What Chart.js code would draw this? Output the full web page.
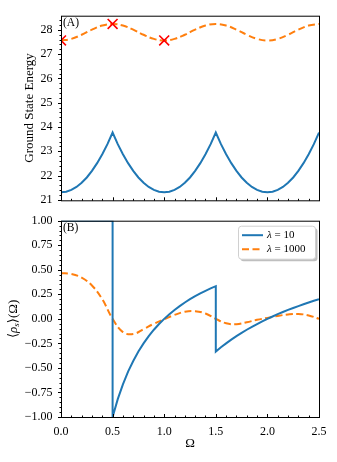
<!DOCTYPE html>
<html>
<head>
<meta charset="utf-8">
<script src="https://cdn.jsdelivr.net/npm/chart.js@4.4.0/dist/chart.umd.min.js"></script>
<style>
  html, body { margin: 0; padding: 0; background: #fff; }
  #wrap { position: relative; width: 337px; height: 462px; }
  canvas { position: absolute; left: 0; }
  #top { top: 0; }
  #bottom { top: 205px; }
</style>
</head>
<body>
<div id="wrap">
  <canvas id="top" width="337" height="216"></canvas>
  <canvas id="bottom" width="337" height="257"></canvas>
</div>
<script>
// Dados (Ω no eixo x)
const omegaFine = [0, 0.05, 0.1, 0.15, 0.2, 0.25, 0.3, 0.35, 0.4, 0.45, 0.5, 0.55, 0.6, 0.65, 0.7, 0.75, 0.8, 0.85, 0.9, 0.95,
  1.0, 1.05, 1.1, 1.15, 1.2, 1.25, 1.3, 1.35, 1.4, 1.45, 1.5, 1.55, 1.6, 1.65, 1.7, 1.75, 1.8, 1.85, 1.9, 1.95,
  2.0, 2.05, 2.1, 2.15, 2.2, 2.25, 2.3, 2.35, 2.4, 2.45, 2.5];
const omegaCoarse = [0, 0.1, 0.2, 0.3, 0.4, 0.5, 0.6, 0.7, 0.8, 0.9, 1.0, 1.1, 1.2, 1.3, 1.4, 1.5, 1.6, 1.7, 1.8, 1.9,
  2.0, 2.1, 2.2, 2.3, 2.4, 2.5];

// (A) energia do estado fundamental
const energyLam10 = [21.31, 21.33, 21.41, 21.53, 21.70, 21.92, 22.19, 22.51, 22.88, 23.29, 23.77, 23.29, 22.88, 22.51, 22.19, 21.92, 21.70, 21.53, 21.41, 21.33,
  21.31, 21.33, 21.41, 21.53, 21.70, 21.92, 22.19, 22.51, 22.88, 23.29, 23.77, 23.29, 22.88, 22.51, 22.19, 21.92, 21.70, 21.53, 21.41, 21.33,
  21.31, 21.33, 21.41, 21.53, 21.70, 21.92, 22.19, 22.51, 22.88, 23.29, 23.77];
const energyLam1000 = [27.56, 27.625, 27.795, 28.005, 28.175, 28.24, 28.175, 28.005, 27.795, 27.625,
  27.56, 27.625, 27.795, 28.005, 28.175, 28.24, 28.175, 28.005, 27.795, 27.625,
  27.56, 27.625, 27.795, 28.005, 28.175, 28.24];
const markerOmega = [0, 0.5, 1.0];
const markerEnergy = [27.56, 28.24, 27.56];

// (B) <rho_s>(Ω)
const rhoOmega10 = [0, 0.5,
  0.5, 0.55, 0.6, 0.65, 0.7, 0.75, 0.8, 0.85, 0.9, 0.95, 1.0, 1.05, 1.1, 1.15, 1.2, 1.25, 1.3, 1.35, 1.4, 1.45, 1.5,
  1.5, 1.55, 1.6, 1.65, 1.7, 1.75, 1.8, 1.85, 1.9, 1.95, 2.0, 2.05, 2.1, 2.15, 2.2, 2.25, 2.3, 2.35, 2.4, 2.45, 2.5];
const rhoLam10 = [1.0, 1.0,
  -1.0, -0.818, -0.667, -0.538, -0.429, -0.333, -0.25, -0.176, -0.111, -0.053, 0.0, 0.048, 0.091, 0.13, 0.167, 0.2, 0.231, 0.259, 0.286, 0.31, 0.333,
  -0.333, -0.29, -0.25, -0.212, -0.176, -0.143, -0.111, -0.081, -0.053, -0.026, 0.0, 0.024, 0.048, 0.07, 0.091, 0.111, 0.13, 0.149, 0.167, 0.184, 0.2];
const rhoLam1000 = [0.465, 0.457, 0.42, 0.34, 0.2, 0.0, -0.135, -0.155, -0.105, -0.05,
  -0.005, 0.04, 0.072, 0.078, 0.055, 0.0, -0.045, -0.055, -0.035, -0.01,
  0.01, 0.03, 0.045, 0.05, 0.035, 0.0];

const seriesLabels = ['λ = 10', 'λ = 1000'];
const xTickLabels = ['0.0', '0.5', '1.0', '1.5', '2.0', '2.5'];

const BLUE = '#1f77b4';
const ORANGE = '#ff7f0e';
const SERIF = '"Liberation Serif", "DejaVu Serif", serif';

const pairs = (xs, ys) => xs.map((x, i) => ({ x, y: ys[i] }));
const fmtMinus = s => s.replace('-', '\u2212');

// Plugin que desenha moldura, marcas dos eixos, rótulos e legenda
const panelDeco = {
  id: 'panelDeco',
  afterDatasetsDraw(chart, args, opts) {
    const { ctx, chartArea: a, scales } = chart;
    const xs = scales.x, ys = scales.y;
    ctx.save();
    ctx.strokeStyle = '#000';
    ctx.lineWidth = 1;
    ctx.strokeRect(a.left + 0.5, a.top + 0.5, a.right - a.left, a.bottom - a.top);

    const line = (x1, y1, x2, y2) => { ctx.beginPath(); ctx.moveTo(x1, y1); ctx.lineTo(x2, y2); ctx.stroke(); };

    // marcas do eixo y (para fora)
    const ny = Math.round((opts.yTo - opts.yFrom) / opts.yMinor);
    for (let i = 0; i <= ny; i++) {
      const v = opts.yFrom + i * opts.yMinor;
      const y = Math.round(ys.getPixelForValue(v)) + 0.5;
      const major = i % opts.yEvery === 0;
      line(a.left + 0.5 - (major ? 3.5 : 2), y, a.left + 0.5, y);
    }
    // marcas do eixo x (para dentro)
    const nx = Math.round((opts.xTo - opts.xFrom) / opts.xMinor);
    for (let i = 0; i <= nx; i++) {
      const v = opts.xFrom + i * opts.xMinor;
      const x = Math.round(xs.getPixelForValue(v)) + 0.5;
      const major = i % opts.xEvery === 0;
      line(x, a.bottom + 0.5, x, a.bottom + 0.5 - (major ? 3.5 : 2));
    }

    ctx.fillStyle = '#000';
    // letra do painel
    ctx.font = '11.5px ' + SERIF;
    ctx.textAlign = 'left';
    ctx.textBaseline = 'middle';
    ctx.fillText(opts.letter, a.left + 2, a.top + 7.5);

    // rótulo do eixo y
    const cy = (a.top + a.bottom) / 2;
    ctx.save();
    ctx.translate(opts.ylabelX, cy);
    ctx.rotate(-Math.PI / 2);
    ctx.textBaseline = 'middle';
    const parts = opts.ylabelParts;
    const widths = parts.map(p => { ctx.font = p.font; return ctx.measureText(p.t).width; });
    let x = -widths.reduce((s, w) => s + w, 0) / 2;
    parts.forEach((p, i) => {
      ctx.font = p.font;
      ctx.textAlign = 'left';
      ctx.fillText(p.t, x, p.dy || 0);
      x += widths[i];
    });
    ctx.restore();

    // rótulo do eixo x
    if (opts.xlabel) {
      ctx.font = '13px ' + SERIF;
      ctx.textAlign = 'center';
      ctx.textBaseline = 'middle';
      ctx.fillText(opts.xlabel, (a.left + a.right) / 2, a.bottom + 27);
    }

    // legenda
    if (opts.legend) {
      const bw = 77, bh = 33;
      const bx = a.right - 4 - bw, by = a.top + 5;
      const rr = (x0, y0, w, h, r) => {
        ctx.beginPath();
        ctx.moveTo(x0 + r, y0);
        ctx.arcTo(x0 + w, y0, x0 + w, y0 + h, r);
        ctx.arcTo(x0 + w, y0 + h, x0, y0 + h, r);
        ctx.arcTo(x0, y0 + h, x0, y0, r);
        ctx.arcTo(x0, y0, x0 + w, y0, r);
        ctx.closePath();
      };
      ctx.fillStyle = 'rgba(0,0,0,0.25)';
      rr(bx + 2.5, by + 2.5, bw, bh, 3);
      ctx.fill();
      ctx.fillStyle = '#fff';
      rr(bx + 0.5, by + 0.5, bw, bh, 3);
      ctx.fill();
      ctx.strokeStyle = '#d0d0d0';
      ctx.lineWidth = 1;
      ctx.stroke();
      chart.data.datasets.forEach((ds, i) => {
        const ry = by + 9.5 + i * 14;
        ctx.strokeStyle = ds.borderColor;
        ctx.lineWidth = 2;
        ctx.setLineDash(ds.borderDash || []);
        line(bx + 4, ry, bx + 25, ry);
        ctx.setLineDash([]);
        ctx.fillStyle = '#000';
        ctx.textAlign = 'left';
        ctx.textBaseline = 'middle';
        ctx.font = 'italic 11px ' + SERIF;
        ctx.fillText('λ', bx + 29, ry);
        const lw = ctx.measureText('λ').width;
        ctx.font = '11px ' + SERIF;
        ctx.fillText(ds.label.slice(1), bx + 29 + lw, ry);
      });
    }
    ctx.restore();
  }
};

const baseOptions = {
  responsive: false,
  animation: false,
  events: [],
  plugins: { legend: { display: false }, tooltip: { enabled: false } },
  elements: { point: { radius: 0 } }
};

// Painel (A)
new Chart(document.getElementById('top'), {
  type: 'line',
  data: {
    datasets: [
      {
        data: pairs(markerOmega, markerEnergy),
        showLine: false,
        pointStyle: 'crossRot',
        pointRadius: 7,
        pointBorderColor: '#ff0000',
        pointBorderWidth: 1.6,
        clip: 0
      },
      {
        data: pairs(omegaCoarse, energyLam1000),
        borderColor: ORANGE,
        borderWidth: 2,
        borderDash: [7, 3.5],
        tension: 0.4,
        clip: 0
      },
      {
        data: pairs(omegaFine, energyLam10),
        borderColor: BLUE,
        borderWidth: 2,
        tension: 0,
        clip: 0
      }
    ]
  },
  options: {
    ...baseOptions,
    layout: { padding: { top: 14, right: 18, bottom: 1, left: 0 } },
    scales: {
      x: { type: 'linear', display: false, min: 0, max: 2.5 },
      y: {
        min: 20.98, max: 28.58,
        afterFit(scale) { scale.width = 61; },
        grid: { display: false, drawTicks: false },
        border: { display: false },
        ticks: {
          stepSize: 1, includeBounds: false, padding: 8.5, color: '#000',
          font: { family: SERIF, size: 12 },
          callback: v => String(v)
        }
      }
    },
    plugins: {
      ...baseOptions.plugins,
      panelDeco: {
        letter: '(A)',
        yFrom: 21, yTo: 28.4, yMinor: 0.2, yEvery: 5,
        xFrom: 0, xTo: 2.5, xMinor: 0.1, xEvery: 5,
        ylabelX: 30,
        ylabelParts: [{ t: 'Ground State Energy', font: '13px ' + SERIF }]
      }
    }
  },
  plugins: [panelDeco]
});

// Painel (B)
new Chart(document.getElementById('bottom'), {
  type: 'line',
  data: {
    datasets: [
      {
        label: seriesLabels[0],
        data: pairs(rhoOmega10, rhoLam10),
        borderColor: BLUE,
        borderWidth: 2,
        tension: 0,
        clip: 0
      },
      {
        label: seriesLabels[1],
        data: pairs(omegaCoarse, rhoLam1000),
        borderColor: ORANGE,
        borderWidth: 2,
        borderDash: [7, 3.5],
        tension: 0.4,
        clip: 0
      }
    ]
  },
  options: {
    ...baseOptions,
    layout: { padding: { top: 10, right: 18, bottom: 0, left: 0 } },
    scales: {
      x: {
        type: 'linear', min: 0, max: 2.5,
        afterFit(scale) { scale.height = 45; },
        grid: { display: false, drawTicks: false },
        border: { display: false },
        ticks: {
          stepSize: 0.5, padding: 7.5, color: '#000', maxRotation: 0,
          font: { family: SERIF, size: 12 },
          callback: v => xTickLabels[Math.round(v / 0.5)]
        }
      },
      y: {
        min: -1, max: 1,
        afterFit(scale) { scale.width = 61; },
        grid: { display: false, drawTicks: false },
        border: { display: false },
        ticks: {
          stepSize: 0.25, padding: 8.5, color: '#000',
          font: { family: SERIF, size: 12 },
          callback: v => fmtMinus(v.toFixed(2))
        }
      }
    },
    plugins: {
      ...baseOptions.plugins,
      panelDeco: {
        letter: '(B)',
        yFrom: -1, yTo: 1, yMinor: 0.05, yEvery: 5,
        xFrom: 0, xTo: 2.5, xMinor: 0.1, xEvery: 5,
        ylabelX: 14,
        xlabel: 'Ω',
        legend: true,
        ylabelParts: [
          { t: '⟨', font: '13px ' + SERIF },
          { t: 'ρ', font: 'italic 13px ' + SERIF },
          { t: 's', font: 'italic 9px ' + SERIF, dy: 3 },
          { t: '⟩(Ω)', font: '13px ' + SERIF }
        ]
      }
    }
  },
  plugins: [panelDeco]
});
</script>
</body>
</html>
